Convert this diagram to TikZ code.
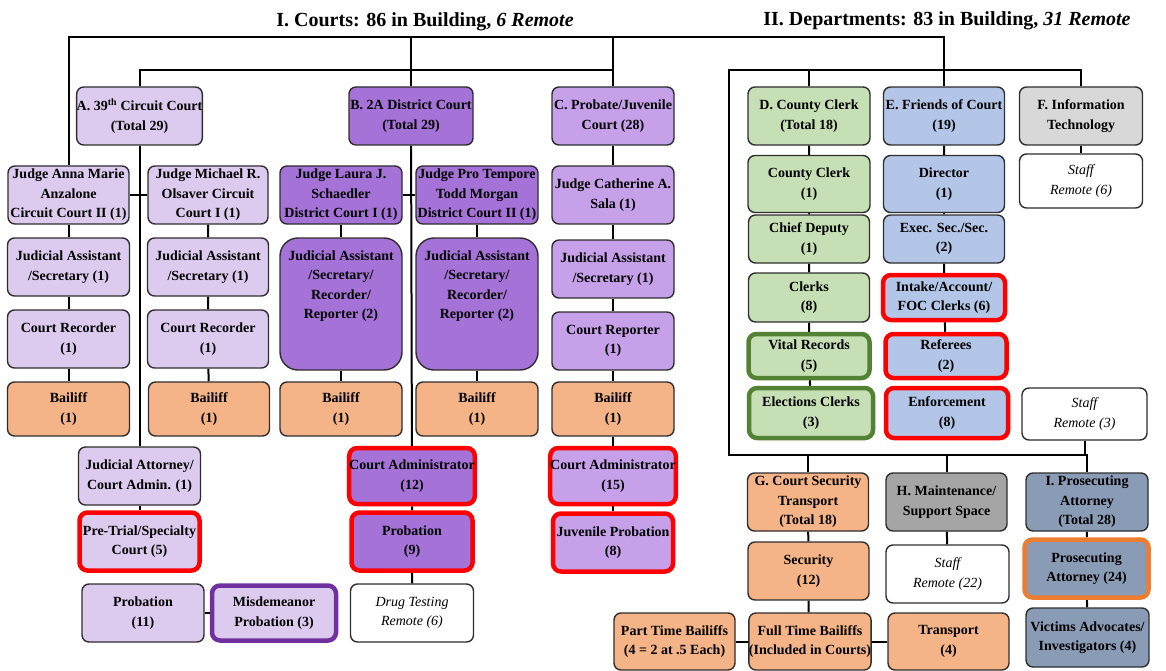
\documentclass[tikz,border=0pt]{standalone}
\usepackage{fontspec}
\setmainfont{Liberation Serif}
\usetikzlibrary{backgrounds}

\definecolor{boxline}{HTML}{2E2E2E}
\definecolor{circfill}{HTML}{DDCBEF}
\definecolor{distfill}{HTML}{A572D7}
\definecolor{probfill}{HTML}{C6A0E9}
\definecolor{bailfill}{HTML}{F5B487}
\definecolor{clerkfill}{HTML}{C6DFB5}
\definecolor{focfill}{HTML}{B3C6E8}
\definecolor{itfill}{HTML}{D8D8D8}
\definecolor{maintfill}{HTML}{A5A5A5}
\definecolor{prosfill}{HTML}{8A9BB6}
\definecolor{rimred}{HTML}{FF0000}
\definecolor{rimgreen}{HTML}{548235}
\definecolor{rimpurple}{HTML}{7030A0}
\definecolor{rimorange}{HTML}{ED7D31}

\tikzset{
    box/.style={draw=boxline, line width=1.4pt, rounded corners=7pt, align=center, inner sep=0pt,
        font=\bfseries\fontsize{14}{19.5}\selectfont},
    boxsize/.style 2 args={minimum width=#1pt, minimum height=#2pt},
    circbox/.style={box, fill=circfill},
    distbox/.style={box, fill=distfill},
    probbox/.style={box, fill=probfill},
    bailbox/.style={box, fill=bailfill},
    clerkbox/.style={box, fill=clerkfill},
    focbox/.style={box, fill=focfill},
    itbox/.style={box, fill=itfill},
    maintbox/.style={box, fill=maintfill},
    prosbox/.style={box, fill=prosfill},
    remotebox/.style={box, fill=white, font=\itshape\fontsize{14}{19.5}\selectfont},
    redrim/.style={draw=rimred, line width=4.5pt, rounded corners=8pt},
    greenrim/.style={draw=rimgreen, line width=4.5pt, rounded corners=8pt},
    purplerim/.style={draw=rimpurple, line width=4.5pt, rounded corners=8pt},
    orangerim/.style={draw=rimorange, line width=4.5pt, rounded corners=8pt},
    link/.style={draw=black, line width=2pt},
    headline/.style={font=\bfseries\fontsize{20}{24}\selectfont, inner sep=0pt}
}

\begin{document}
\begin{tikzpicture}[x=1pt, y=-1pt]
    \useasboundingbox (0,0) rectangle (1166,671);

    \node [headline] (courts) at (425,22) {I. Courts: 86 in Building, \textit{6 Remote}};
    \node [headline] (depts) at (947,21) {II. Departments: 83 in Building, \textit{31 Remote}};

    \node [circbox, boxsize={123}{58}] (circuit) at (139.5,116) {A. 39\textsuperscript{th} Circuit Court\\(Total 29)};
    \node [distbox, boxsize={124}{58}] (district) at (411,116) {B. 2A District Court\\(Total 29)};
    \node [probbox, boxsize={122}{58}] (probate) at (613,116) {C. Probate/Juvenile\\Court (28)};

    \node [circbox, boxsize={121}{58}] (anna) at (68.5,195) {Judge Anna Marie\\Anzalone\\Circuit Court II (1)};
    \node [circbox, boxsize={120}{58}] (michael) at (208,195) {Judge Michael R.\\Olsaver Circuit\\Court I (1)};
    \node [distbox, boxsize={122}{58}] (laura) at (341,195) {Judge Laura J.\\Schaedler\\District Court I (1)};
    \node [distbox, boxsize={122}{58}] (protem) at (477,195) {Judge Pro Tempore\\Todd Morgan\\District Court II (1)};
    \node [probbox, boxsize={122}{58}] (sala) at (613,195) {Judge Catherine A.\\Sala (1)};

    \node [circbox, boxsize={122}{58}] (ja1) at (68.5,267) {Judicial Assistant\\/Secretary (1)};
    \node [circbox, boxsize={121}{58}] (ja2) at (208,267) {Judicial Assistant\\/Secretary (1)};
    \node [distbox, boxsize={122}{132}, rounded corners=18pt] (ja3) at (341,304) {Judicial Assistant\\/Secretary/\\Recorder/\\Reporter (2)\\~\\~};
    \node [distbox, boxsize={122}{132}, rounded corners=18pt] (ja4) at (477,304) {Judicial Assistant\\/Secretary/\\Recorder/\\Reporter (2)\\~\\~};
    \node [probbox, boxsize={122}{58}] (ja5) at (613,269) {Judicial Assistant\\/Secretary (1)};

    \node [circbox, boxsize={122}{58}] (cr1) at (68.5,339) {Court Recorder\\(1)};
    \node [circbox, boxsize={121}{58}] (cr2) at (208,339) {Court Recorder\\(1)};
    \node [probbox, boxsize={122}{58}] (rep5) at (613,341) {Court Reporter\\(1)};

    \node [bailbox, boxsize={122}{54}] (bail1) at (68.5,409) {Bailiff\\(1)};
    \node [bailbox, boxsize={121}{54}] (bail2) at (209,409) {Bailiff\\(1)};
    \node [bailbox, boxsize={122}{54}] (bail3) at (341,409) {Bailiff\\(1)};
    \node [bailbox, boxsize={122}{54}] (bail4) at (477,409) {Bailiff\\(1)};
    \node [bailbox, boxsize={122}{54}] (bail5) at (613,409) {Bailiff\\(1)};

    \node [circbox, boxsize={122}{58}] (jatty) at (139.5,476) {Judicial Attorney/\\Court Admin. (1)};
    \node [distbox, redrim, boxsize={121}{56}] (admin12) at (412,476) {Court Administrator\\(12)};
    \node [probbox, redrim, boxsize={120}{56}] (admin15) at (613,476) {Court Administrator\\(15)};

    \node [circbox, redrim, boxsize={120}{58}] (pretrial) at (139.5,541.5) {Pre-Trial/Specialty\\Court (5)};
    \node [distbox, redrim, boxsize={121}{58}] (probn9) at (412,541.5) {Probation\\(9)};
    \node [probbox, redrim, boxsize={120}{58}] (juvprob) at (613,542.5) {Juvenile Probation\\(8)};

    \node [circbox, boxsize={122}{58}] (probn11) at (143,613) {Probation\\(11)};
    \node [circbox, purplerim, boxsize={124}{55}] (misd) at (274,613) {Misdemeanor\\Probation (3)};
    \node [remotebox, boxsize={123}{58}] (drug) at (412,613) {Drug Testing\\Remote (6)};

    \node [clerkbox, boxsize={122}{58}] (clerk) at (809,116) {D. County Clerk\\(Total 18)};
    \node [focbox, boxsize={121}{58}] (foc) at (944,116) {E. Friends of Court\\(19)};
    \node [itbox, boxsize={123}{58}] (infotech) at (1081,116) {F. Information\\Technology};

    \node [clerkbox, boxsize={122}{57}] (cclerk) at (809,184) {County Clerk\\(1)};
    \node [focbox, boxsize={121}{57}] (director) at (944,184) {Director\\(1)};
    \node [remotebox, boxsize={123}{54}] (itstaff) at (1081,181) {Staff\\Remote (6)};

    \node [clerkbox, boxsize={121}{48}] (deputy) at (809,239) {Chief Deputy\\(1)};
    \node [focbox, boxsize={121}{48}] (execsec) at (944,239) {Exec. Sec./Sec.\\(2)};

    \node [clerkbox, boxsize={121}{49}] (clerks) at (809,297.5) {Clerks\\(8)};
    \node [focbox, redrim, boxsize={122}{45}] (intake) at (944,297.5) {Intake/Account/\\FOC Clerks (6)};

    \node [clerkbox, greenrim, boxsize={121}{44}] (vital) at (809,356) {Vital Records\\(5)};
    \node [focbox, redrim, boxsize={121}{44}] (referees) at (946,356) {Referees\\(2)};

    \node [clerkbox, greenrim, boxsize={124}{50}] (elect) at (811,413) {Elections Clerks\\(3)};
    \node [focbox, redrim, boxsize={122}{50}] (enforce) at (947,413) {Enforcement\\(8)};
    \node [remotebox, boxsize={125}{52}] (staff3) at (1084.5,414) {Staff\\Remote (3)};

    \node [bailbox, boxsize={121}{58}] (gsec) at (808,502) {G. Court Security\\Transport\\(Total 18)};
    \node [maintbox, boxsize={121}{58}] (maint) at (946.5,502) {H. Maintenance/\\Support Space};
    \node [prosbox, boxsize={122}{58}] (pros) at (1087,502) {I. Prosecuting\\Attorney\\(Total 28)};

    \node [bailbox, boxsize={121}{58}] (security) at (808.5,571) {Security\\(12)};
    \node [remotebox, boxsize={123}{58}] (mstaff) at (947.5,574) {Staff\\Remote (22)};
    \node [prosbox, orangerim, boxsize={124}{58}] (prosatty) at (1086.5,568.5) {Prosecuting\\Attorney (24)};

    \node [bailbox, boxsize={121}{57}] (parttime) at (674.5,641.5) {Part Time Bailiffs\\(4 = 2 at .5 Each)};
    \node [bailbox, boxsize={121}{57}] (fulltime) at (810,641.5) {Full Time Bailiffs\\(Included in Courts)};
    \node [bailbox, boxsize={121}{57}] (transport) at (948.5,641.5) {Transport\\(4)};
    \node [prosbox, boxsize={123}{59}] (victims) at (1087.5,637.5) {Victims Advocates/\\Investigators (4)};

    \coordinate (topline) at (68.5,37);
    \coordinate (courtbar) at (139.5,70);
    \coordinate (deptbar) at (729,70);
    \coordinate (deptfoot) at (729,455);

    \begin{scope}[on background layer]
        \draw [link] (anna.north) |- (topline -| foc.north) -- (foc.north);
        \draw [link] (district.north |- topline) -- (district.north);
        \draw [link] (probate.north |- topline) -- (probate.north);
        \draw [link] (circuit.north) |- (courtbar -| probate.north);
        \draw [link] (clerk.north) |- (deptbar -| infotech.north) -- (infotech.north);
        \draw [link] (clerk.north |- deptbar) -- (deptbar) -- (deptfoot) -- (deptfoot -| pros.north) -- (pros.north);
        \draw [link] (deptfoot -| gsec.north) -- (gsec.north);
        \draw [link] (deptfoot -| maint.north) -- (maint.north);

        \draw [link] (anna) -- (ja1) -- (cr1) -- (bail1);
        \draw [link] (anna) -- (michael);
        \draw [link] (michael) -- (ja2) -- (cr2) -- (bail2);
        \draw [link] (circuit) -- (circuit.south |- jatty.north);
        \draw [link] (jatty) -- (pretrial);
        \draw [link] (probn11) -- (misd);

        \draw [link] (district) -- (admin12) -- (probn9) -- (drug);
        \draw [link] (laura) -- (protem);
        \draw [link] (laura) -- (ja3) -- (bail3);
        \draw [link] (protem) -- (ja4) -- (bail4);
        \draw [link] (probate) -- (sala) -- (ja5) -- (rep5) -- (bail5) -- (admin15) -- (juvprob);

        \draw [link] (clerk) -- (cclerk) -- (deputy) -- (clerks) -- (vital) -- (elect);
        \draw [link] (foc) -- (director) -- (execsec) -- (intake) -- (referees);
        \draw [link] (infotech) -- (itstaff);
        \draw [link] (staff3.south) -- (staff3.south |- deptfoot);
        \draw [link] (gsec) -- (security) -- (security.south |- fulltime.north);
        \draw [link] (parttime) -- (fulltime) -- (transport);
        \draw [link] (maint) -- (mstaff);
        \draw [link] (pros) -- (prosatty) -- (victims);
    \end{scope}

\end{tikzpicture}
\end{document}
